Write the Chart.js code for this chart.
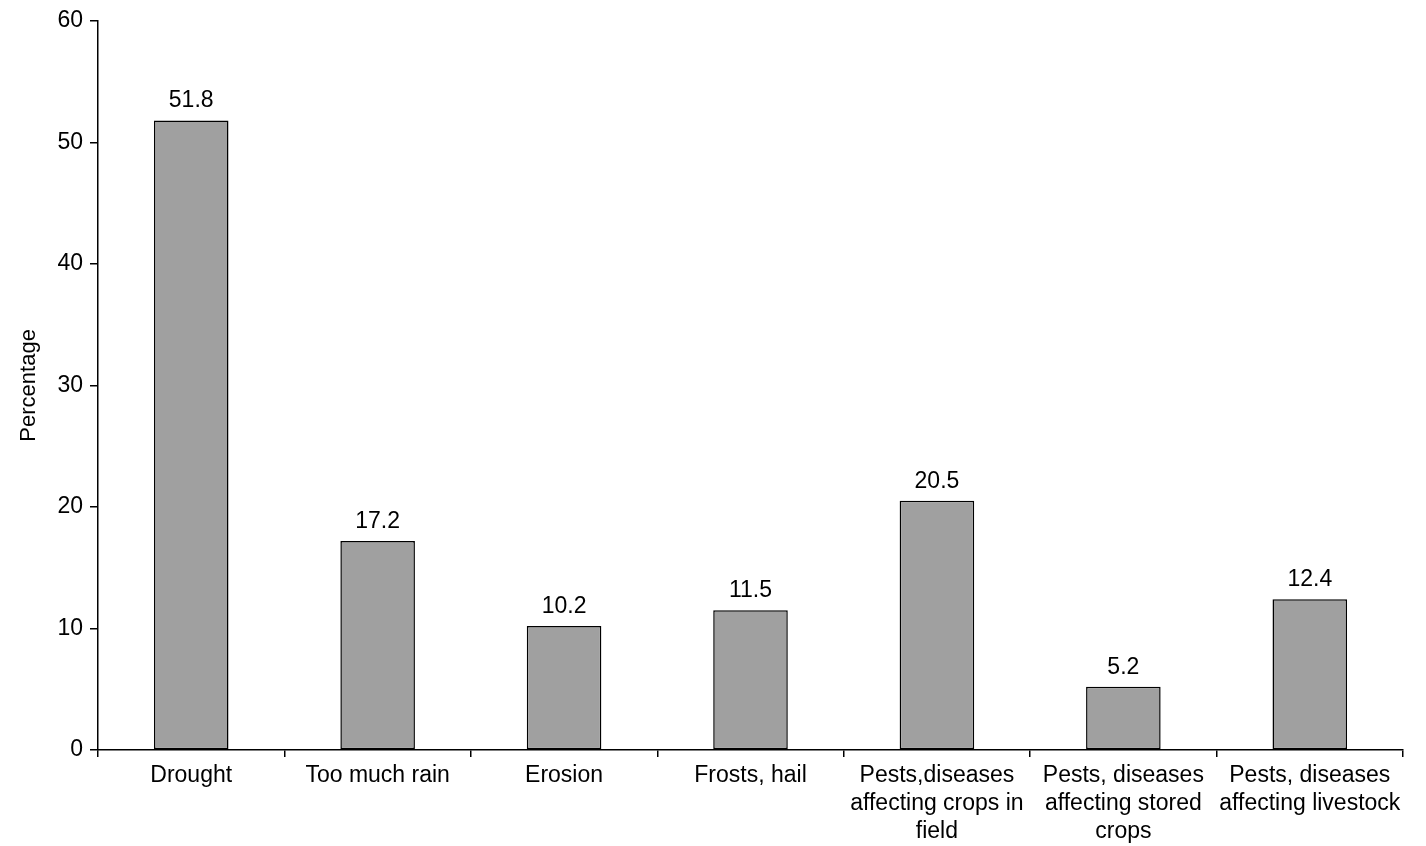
<!DOCTYPE html>
<html>
<head>
<meta charset="UTF-8">
<title>Percentage by hazard</title>
<script src="https://cdn.jsdelivr.net/npm/chart.js"></script>
<style>
  body { margin: 0; background: #fff; }
  #wrap { width: 1426px; height: 846px; position: relative; }
</style>
</head>
<body>
<div id="wrap"><canvas id="chart"></canvas></div>
<script>
const categories = [
  'Drought',
  'Too much rain',
  'Erosion',
  'Frosts, hail',
  ['Pests,diseases', 'affecting crops in', 'field'],
  ['Pests, diseases', 'affecting stored', 'crops'],
  ['Pests, diseases', 'affecting livestock']
];
const percentages = [51.8, 17.2, 10.2, 11.5, 20.5, 5.2, 12.4];
const yTicks = [0, 10, 20, 30, 40, 50, 60];

const FONT = 'Liberation Sans, Arial, sans-serif';

// draw value on top of each bar
const valueLabels = {
  id: 'valueLabels',
  afterDatasetsDraw(chart) {
    const ctx = chart.ctx;
    const meta = chart.getDatasetMeta(0);
    ctx.save();
    ctx.font = '23px ' + FONT;
    ctx.fillStyle = '#000';
    ctx.textAlign = 'center';
    ctx.textBaseline = 'bottom';
    meta.data.forEach((bar, i) => {
      ctx.fillText(percentages[i].toFixed(1), bar.x, bar.y - 8);
    });
    ctx.restore();
  }
};

new Chart(document.getElementById('chart'), {
  type: 'bar',
  data: {
    labels: categories,
    datasets: [{
      data: percentages,
      backgroundColor: '#a0a0a0',
      borderColor: '#000',
      borderWidth: 1.5,
      borderSkipped: false,
      barPercentage: 0.4,
      categoryPercentage: 1.0
    }]
  },
  options: {
    responsive: true,
    maintainAspectRatio: false,
    animation: false,
    layout: { padding: { top: 20, right: 23, left: 0, bottom: 0 } },
    plugins: {
      legend: { display: false },
      tooltip: { enabled: false }
    },
    scales: {
      x: {
        offset: true,
        grid: { drawOnChartArea: false, offset: true, tickLength: 7, color: '#000', lineWidth: 1.5 },
        border: { color: '#000', width: 1.5 },
        ticks: {
          color: '#000',
          font: { size: 23, family: FONT, lineHeight: 1.22 },
          maxRotation: 0,
          autoSkip: false,
          padding: 5
        },
        afterFit(scale) { scale.height = 96; }
      },
      y: {
        min: 0,
        max: 60,
        afterBuildTicks(scale) { scale.ticks = yTicks.map(v => ({ value: v })); },
        grid: { drawOnChartArea: false, tickLength: 8, color: '#000', lineWidth: 1.5 },
        border: { color: '#000', width: 1.5 },
        ticks: {
          color: '#000',
          font: { size: 23, family: FONT },
          padding: 7
        },
        title: {
          display: true,
          text: 'Percentage',
          color: '#000',
          font: { size: 22, family: FONT },
          padding: { top: 16, bottom: 0 }
        },
        afterFit(scale) { scale.width = 98; }
      }
    }
  },
  plugins: [valueLabels]
});
</script>
</body>
</html>
